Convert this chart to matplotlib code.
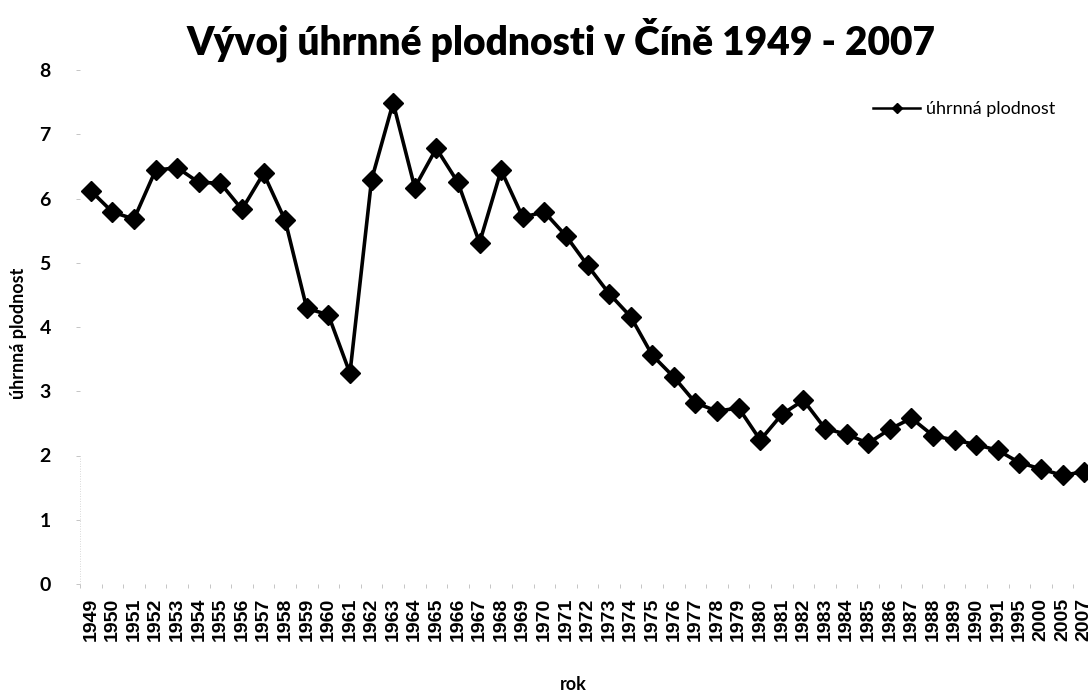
import matplotlib
matplotlib.use("Agg")
import matplotlib.pyplot as plt
from matplotlib.lines import Line2D

years = [str(y) for y in range(1949, 1992)] + ["1995", "2000", "2005", "2007"]
tfr = [6.12, 5.79, 5.68, 6.44, 6.48, 6.25, 6.24, 5.83, 6.39, 5.66,
       4.29, 4.19, 3.28, 6.29, 7.49, 6.17, 6.78, 6.25, 5.31, 6.44,
       5.71, 5.79, 5.42, 4.96, 4.52, 4.16, 3.56, 3.22, 2.82, 2.69,
       2.74, 2.24, 2.64, 2.86, 2.42, 2.33, 2.19, 2.41, 2.58, 2.31,
       2.24, 2.17, 2.08, 1.89, 1.79, 1.69, 1.75]
series_name = "úhrnná plodnost"
title = "Vývoj úhrnné plodnosti v Číně 1949 - 2007"
ylabel = "úhrnná plodnost"
xlabel = "rok"

fig = plt.figure(figsize=(10.88, 6.97), dpi=100)
ax = fig.add_axes([80/1088, (697-584)/697, (1095-80)/1088, (584-70)/697])

x = list(range(len(years)))
ax.plot(x, tfr, color="black", lw=2.6, marker="D", markersize=10,
        markerfacecolor="black", markeredgecolor="black")

ax.set_xlim(-0.5, len(years) - 0.5)
ax.set_ylim(0, 8)
ax.set_yticks(range(0, 9))
ax.set_yticklabels([str(i) for i in range(0, 9)], fontfamily="Lato",
                   fontweight="bold", fontsize=14)
ax.set_xticks(x)
ax.set_xticklabels(years, rotation=90, fontfamily="Liberation Sans",
                   fontweight="bold", fontsize=14)
ax.set_xticks([i - 0.5 for i in range(len(years) + 1)], minor=True)
ax.tick_params(axis="x", which="major", length=0, pad=10)
ax.tick_params(axis="x", which="minor", length=3, color="#bbbbbb", width=0.6)
ax.tick_params(axis="y", length=3, color="#bbbbbb", width=0.6, pad=18)
for s in ax.spines.values():
    s.set_visible(False)
ax.axvline(-0.5, ymin=0, ymax=0.25, color="#cccccc", lw=0.6, ls=(0, (1, 2)))

fig.text(561/1088, (697-40)/697, title, ha="center", va="center",
         fontfamily="Lato", fontweight="heavy", fontsize=28)
fig.text(19/1088, (697-333)/697, ylabel, rotation=90, ha="center", va="center",
         fontfamily="Lato", fontweight="bold", fontsize=13)
fig.text(573/1088, (697-684)/697, xlabel, ha="center", va="center",
         fontfamily="Lato", fontweight="bold", fontsize=13)

handle = Line2D([], [], color="black", lw=1.8, marker="D", markersize=5.5)
leg = ax.legend([handle], [series_name], loc="upper right",
                bbox_to_anchor=(1064/1088, (697-92)/697),
                bbox_transform=fig.transFigure, frameon=False,
                prop={"family": "Lato", "size": 13}, handlelength=2.6,
                handletextpad=0.3, borderpad=0)

fig.savefig("out.png", dpi=100)
